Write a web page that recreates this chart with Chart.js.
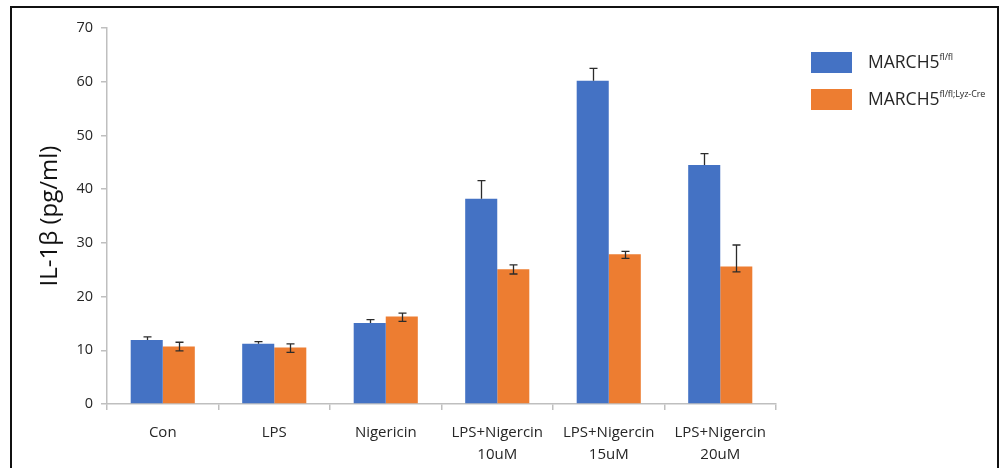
<!DOCTYPE html>
<html>
<head>
<meta charset="utf-8">
<script src="https://cdn.jsdelivr.net/npm/chart.js@4.4.1/dist/chart.umd.min.js"></script>
<style>
  html, body { margin: 0; padding: 0; background: #fff; }
  #wrap { position: relative; width: 1000px; height: 468px; overflow: hidden; }
  #frame { position: absolute; left: 10px; top: 6px; width: 989px; height: 480px; border: 2px solid #111; border-bottom: none; box-sizing: border-box; }
  canvas { position: absolute; left: 0; top: 0; }
  #legend { position: absolute; left: 811px; top: 52px; font-family: "Open Sans", sans-serif; color: #262626; font-size: 17.5px; }
  .item { position: relative; height: 37px; }
  .sw { position: absolute; left: 0; top: 0; width: 41px; height: 21px; }
  .lbl { position: absolute; left: 57px; top: -3px; white-space: nowrap; }
  .lbl sup { font-size: 9px; position: relative; top: -1px; letter-spacing: -0.1px; }
</style>
</head>
<body>
<div id="wrap">
  <canvas id="c" width="1000" height="468"></canvas>
  <div id="frame"></div>
  <div id="legend"></div>
</div>
<script>
// Treatment groups along the x axis
const categories = ['Con', 'LPS', 'Nigericin', ['LPS+Nigercin', '10uM'], ['LPS+Nigercin', '15uM'], ['LPS+Nigercin', '20uM']];

// IL-1β concentrations (pg/ml)
const floxValues = [11.9, 11.2, 15.1, 38.2, 60.2, 44.5];
const floxErrUp = [0.6, 0.4, 0.6, 3.4, 2.3, 2.1];

const lyzCreValues = [10.7, 10.5, 16.3, 25.1, 27.9, 25.6];
const lyzCreErrUp = [0.8, 0.7, 0.6, 0.8, 0.5, 4.0];
const lyzCreErrDown = [0.8, 0.9, 0.9, 0.9, 0.8, 1.0];

const yTicks = [0, 10, 20, 30, 40, 50, 60, 70];

const seriesNames = [
  { base: 'MARCH5', sup: 'fl/fl', color: '#4472C4' },
  { base: 'MARCH5', sup: 'fl/fl;Lyz-Cre', color: '#ED7D31' }
];

const FONT = '"Open Sans", sans-serif';

// Error whiskers drawn on top of each bar, positioned through the value scale
const errorBars = {
  id: 'errorBars',
  afterDatasetsDraw(chart) {
    const ctx = chart.ctx;
    const y = chart.scales.y;
    const sets = [
      { up: floxErrUp, down: null },
      { up: lyzCreErrUp, down: lyzCreErrDown }
    ];
    ctx.save();
    ctx.strokeStyle = '#2b2b2b';
    ctx.lineWidth = 1.3;
    sets.forEach((s, di) => {
      const meta = chart.getDatasetMeta(di);
      const vals = chart.data.datasets[di].data;
      meta.data.forEach((bar, i) => {
        const x = Math.round(bar.x) + 0.5;
        const top = y.getPixelForValue(vals[i] + s.up[i]);
        const bottom = s.down ? y.getPixelForValue(vals[i] - s.down[i]) : y.getPixelForValue(vals[i]);
        ctx.beginPath();
        ctx.moveTo(x, top);
        ctx.lineTo(x, bottom);
        ctx.moveTo(x - 4, top);
        ctx.lineTo(x + 4, top);
        if (s.down) {
          ctx.moveTo(x - 4, bottom);
          ctx.lineTo(x + 4, bottom);
        }
        ctx.stroke();
      });
    });
    ctx.restore();
  }
};

new Chart(document.getElementById('c'), {
  type: 'bar',
  data: {
    labels: categories,
    datasets: [
      { label: 'MARCH5 fl/fl', data: floxValues, backgroundColor: seriesNames[0].color, categoryPercentage: 0.575, barPercentage: 1.0 },
      { label: 'MARCH5 fl/fl;Lyz-Cre', data: lyzCreValues, backgroundColor: seriesNames[1].color, categoryPercentage: 0.575, barPercentage: 1.0 }
    ]
  },
  options: {
    responsive: false,
    animation: false,
    layout: { padding: { left: 36, right: 224, top: 28, bottom: 0 } },
    plugins: { legend: { display: false }, tooltip: { enabled: false } },
    scales: {
      x: {
        offset: true,
        grid: { offset: true, drawOnChartArea: false, tickLength: 6, color: '#bfbfbf', lineWidth: 1.5 },
        border: { color: '#bfbfbf', width: 1.5 },
        ticks: { color: '#262626', font: { family: FONT, size: 15, lineHeight: 1.5 }, padding: 11, maxRotation: 0, autoSkip: false },
        afterFit(scale) { scale.height = 64; }
      },
      y: {
        min: 0, max: 70,
        afterBuildTicks(scale) { scale.ticks = yTicks.map(v => ({ value: v })); },
        grid: { drawOnChartArea: false, tickLength: 6, color: '#bfbfbf', lineWidth: 1.5 },
        border: { color: '#bfbfbf', width: 1.5 },
        ticks: { color: '#262626', font: { family: FONT, size: 14.5 }, padding: 8 },
        title: { display: true, text: 'IL-1β (pg/ml)', color: '#111', font: { family: FONT, size: 24 }, padding: { top: 0, bottom: 2 } },
        afterFit(scale) { scale.width = 71; }
      }
    }
  },
  plugins: [errorBars]
});

// Legend with superscript genotype labels
const legend = document.getElementById('legend');
seriesNames.forEach(s => {
  const item = document.createElement('div');
  item.className = 'item';
  const sw = document.createElement('div');
  sw.className = 'sw';
  sw.style.background = s.color;
  const lbl = document.createElement('div');
  lbl.className = 'lbl';
  lbl.textContent = s.base;
  const sup = document.createElement('sup');
  sup.textContent = s.sup;
  lbl.appendChild(sup);
  item.appendChild(sw);
  item.appendChild(lbl);
  legend.appendChild(item);
});
</script>
</body>
</html>
